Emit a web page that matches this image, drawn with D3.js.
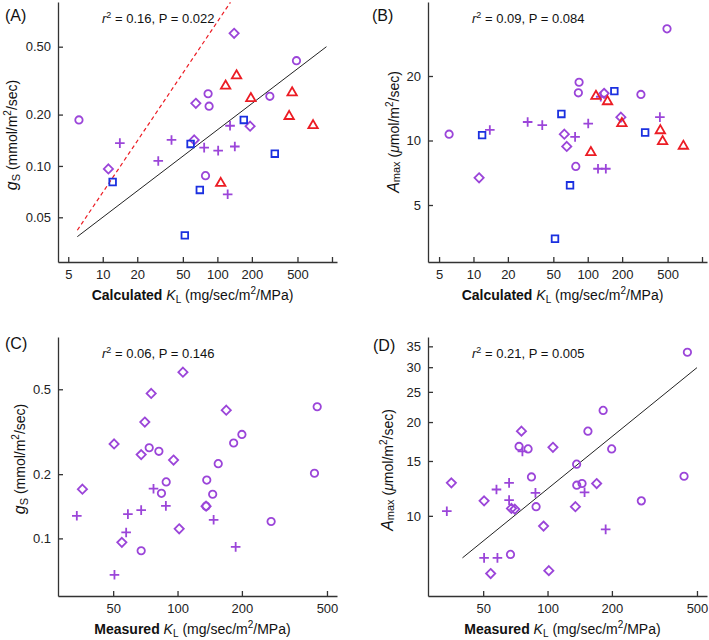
<!DOCTYPE html>
<html>
<head>
<meta charset="utf-8">
<script src="https://cdn.jsdelivr.net/npm/d3@7"></script>
<style>
body { margin: 0; background: #fff; }
svg { font-family: "Liberation Sans", Arial, sans-serif; }
</style>
</head>
<body>
<svg id="chart" width="709" height="640"></svg>
<script>
// colours of the species groups
var purple = "#9b45d9", red = "#ec1c24", blue = "#1b30e0";

// (A) calculated KL vs gs   [KL, gs]
var aCircles   = [[6.2,0.186],[83,0.265],[84.7,0.224],[490,0.414],[287,0.256],[78.8,0.0877]];
var aDiamonds  = [[11.2,0.096],[140,0.599],[64.9,0.233],[193,0.171],[62.8,0.142]];
var aPlus      = [[14.1,0.136],[30.5,0.107],[39.8,0.142],[129,0.172],[76.7,0.128],[101.6,0.123],[142,0.130],[123,0.0682]];
var aTriangles = [[147,0.341],[118,0.297],[196,0.251],[449,0.271],[423,0.197],[684,0.174],[107,0.0798]];
var aSquares   = [[12.2,0.0805],[170,0.186],[58.4,0.1346],[317,0.118],[70.3,0.0723],[52,0.0392]];
var aFit       = [[6,0.0385],[895,0.5]];
var aOneToOne  = [[6,0.042],[130,0.91]];

// (B) calculated KL vs Amax
var bCircles   = [[6.12,10.7],[494,33.2],[84,18.7],[82.8,16.7],[292,16.4],[78.6,7.57]];
var bDiamonds  = [[11.2,6.7],[139,16.6],[195,12.85],[62.4,10.7],[65.5,9.38]];
var bPlus      = [[13.9,11.2],[29.8,12.2],[40,11.8],[130,16.0],[101,12.0],[428,12.85],[77.5,10.4],[123,7.38],[144,7.38]];
var bTriangles = [[118,16.2],[149,15.3],[199,12.1],[432,11.2],[452,9.97],[687,9.48],[106.5,8.86]];
var bSquares   = [[11.9,10.6],[171,17.0],[58.8,13.3],[318,10.9],[70,6.18],[51.7,3.48]];

// (C) measured KL vs gs
var cDiamonds = [[75.3,0.478],[70.3,0.351],[50.5,0.277],[67.6,0.247],[95.8,0.233],[35.9,0.170],[54.9,0.0958],[106,0.601],[169,0.399],[136,0.1416],[101.8,0.1109]];
var cCircles  = [[73.7,0.266],[81.8,0.256],[88.5,0.184],[84.1,0.1626],[67.6,0.0875],[450,0.414],[200,0.307],[183,0.28],[155,0.224],[137,0.1876],[437,0.202],[146,0.161],[136,0.1416],[274,0.120]];
var cPlus     = [[77.2,0.171],[88.2,0.142],[33.8,0.1276],[58.6,0.130],[67.6,0.1357],[57.5,0.1066],[50.7,0.0675],[147.5,0.1222],[187,0.0913]];

// (D) measured KL vs Amax
var dDiamonds = [[35.5,12.76],[50.5,11.17],[67.8,10.56],[70.3,10.5],[75.5,18.7],[54.2,6.53],[106,16.6],[169.7,12.7],[135,10.7],[95.8,9.27],[101.4,6.67]];
var dCircles  = [[73.6,16.7],[81.1,16.4],[84.1,13.33],[88.4,10.7],[67.1,7.52],[451,33.5],[182,21.8],[154.5,18.7],[199.5,16.4],[136.8,14.65],[137,12.54],[145,12.7],[435,13.4],[274.6,11.17]];
var dPlus     = [[33.8,10.35],[57.7,12.15],[66.1,12.76],[66.1,11.23],[76.3,16.1],[87.8,11.85],[50.5,7.33],[58.3,7.33],[149,11.9],[187,9.05]];
var dFit      = [[40,7.33],[500,29.9]];

// tick values
var calcTicks = [5,10,20,50,100,200,500,1000];
var measTicks = [50,100,200,500];
var gsCalcTicks = [0.05,0.10,0.20,0.50];
var gsMeasTicks = [0.1,0.2,0.5];
var amaxCalcTicks = [5,10,20];
var amaxMeasTicks = [10,15,20,25,30,35];

var svg = d3.select("#chart");

// marker outlines
function markerPath(shape) {
    if (shape == "circle") return "M3.7,0A3.7,3.7,0,1,1,-3.7,0A3.7,3.7,0,1,1,3.7,0Z";
    if (shape == "square") return "M-3.3,-3.3H3.3V3.3H-3.3Z";
    if (shape == "diamond") return "M0,-4.6L4.6,0L0,4.6L-4.6,0Z";
    if (shape == "triangle") return "M0,-4.8L4.7,3.3L-4.7,3.3Z";
    if (shape == "plus") return "M-4.8,0H4.8M0,-4.8V4.8";
}

function panel(cfg) {
    var x = d3.scaleLog().domain(cfg.xDom).range([cfg.left, cfg.right]);
    var y = d3.scaleLog().domain(cfg.yDom).range([cfg.bottom, cfg.top]);

    // axes, ticks pointing inward
    var gx = svg.append("g")
        .attr("transform", "translate(0," + cfg.bottom + ")")
        .call(d3.axisBottom(x).tickValues(cfg.xTicks)
            .tickFormat(function(d) { return d >= 1000 ? "" : d; })
            .tickSizeInner(-5).tickSizeOuter(0).tickPadding(8));
    var gy = svg.append("g")
        .attr("transform", "translate(" + cfg.left + ",0)")
        .call(d3.axisLeft(y).tickValues(cfg.yTicks).tickFormat(cfg.yFmt)
            .tickSizeInner(-5).tickSizeOuter(0).tickPadding(7));
    [gx, gy].forEach(function(g) {
        g.attr("font-family", null).attr("font-size", null);
        g.selectAll("text").style("font-size", "13px").attr("fill", "#222");
        g.selectAll("path,line").attr("stroke", "#333").attr("stroke-width", 1.3);
    });

    var clipId = "clip" + cfg.key;
    svg.append("clipPath").attr("id", clipId).append("rect")
        .attr("x", cfg.left).attr("y", cfg.top)
        .attr("width", cfg.right - cfg.left).attr("height", cfg.bottom - cfg.top);

    var line = d3.line().x(function(d) { return x(d[0]); }).y(function(d) { return y(d[1]); });
    (cfg.lines || []).forEach(function(l) {
        svg.append("path").attr("d", line(l.data))
            .attr("clip-path", "url(#" + clipId + ")")
            .attr("fill", "none").attr("stroke", l.color)
            .attr("stroke-width", l.width)
            .attr("stroke-dasharray", l.dash || null);
    });

    cfg.series.forEach(function(s) {
        svg.append("g").selectAll("path")
            .data(s.data)
            .enter().append("path")
            .attr("d", markerPath(s.shape))
            .attr("transform", function(d) { return "translate(" + x(d[0]) + "," + y(d[1]) + ")"; })
            .attr("fill", "none")
            .attr("stroke", s.color)
            .attr("stroke-width", 1.8);
    });

    // panel letter
    svg.append("text").attr("x", cfg.labelX).attr("y", cfg.labelY)
        .style("font-size", "16px").attr("fill", "#111").text(cfg.name);

    // statistics
    var st = svg.append("text").attr("x", cfg.left + 44).attr("y", cfg.top + 21)
        .style("font-size", "13px").attr("fill", "#111");
    st.append("tspan").style("font-style", "italic").text("r");
    st.append("tspan").attr("dy", -5).style("font-size", "9px").text("2");
    st.append("tspan").attr("dy", 5).text(" = " + cfg.r2 + ", P = " + cfg.p);

    // x title
    var xt = svg.append("text")
        .attr("x", (cfg.left + cfg.right) / 2 - 5).attr("y", cfg.bottom + 38)
        .attr("text-anchor", "middle").style("font-size", "14px").attr("fill", "#111");
    xt.append("tspan").style("font-weight", "bold").text(cfg.xWord + " ");
    xt.append("tspan").style("font-style", "italic").text("K");
    xt.append("tspan").attr("dy", 3).style("font-size", "10px").text("L");
    xt.append("tspan").attr("dy", -3).text(" (mg/sec/m");
    xt.append("tspan").attr("dy", -6).style("font-size", "10px").text("2");
    xt.append("tspan").attr("dy", 6).text("/MPa)");

    // y title
    var yt = svg.append("text")
        .attr("transform", "translate(" + cfg.yTitleX + "," + cfg.yTitleY + ") rotate(-90)")
        .attr("text-anchor", "middle").style("font-size", "14px").attr("fill", "#111");
    if (cfg.yKind == "gs") {
        yt.append("tspan").style("font-style", "italic").style("font-size", "16px").text("g");
        yt.append("tspan").attr("dy", 3).style("font-size", "11px").text("S");
        yt.append("tspan").attr("dy", -3).text(" (mmol/m");
    } else {
        yt.append("tspan").style("font-style", "italic").style("font-size", "16px").text("A");
        yt.append("tspan").attr("dy", 1).style("font-size", "11px").text("max");
        yt.append("tspan").attr("dy", -1).text(" (");
        yt.append("tspan").style("font-style", "italic").text("\u03bc");
        yt.append("tspan").text("mol/m");
    }
    yt.append("tspan").attr("dy", -6).style("font-size", "10px").text("2");
    yt.append("tspan").attr("dy", 6).text("/sec)");
}

panel({
    key: "A", name: "(A)", labelX: 5, labelY: 21,
    left: 58, right: 337, top: 2, bottom: 262,
    xDom: [4.07, 1106], yDom: [0.02735, 0.914],
    xTicks: calcTicks, yTicks: gsCalcTicks, yFmt: d3.format(".2f"),
    r2: "0.16", p: "0.022", xWord: "Calculated",
    yKind: "gs", yTitleX: 17, yTitleY: 135,
    lines: [
        {data: aOneToOne, color: red, width: 1.2, dash: "4,3"},
        {data: aFit, color: "#222", width: 1}
    ],
    series: [
        {data: aCircles, shape: "circle", color: purple},
        {data: aDiamonds, shape: "diamond", color: purple},
        {data: aPlus, shape: "plus", color: purple},
        {data: aTriangles, shape: "triangle", color: red},
        {data: aSquares, shape: "square", color: blue}
    ]
});

panel({
    key: "B", name: "(B)", labelX: 372, labelY: 21,
    left: 428, right: 707, top: 2, bottom: 262,
    xDom: [4.0, 1106], yDom: [2.71, 44.3],
    xTicks: calcTicks, yTicks: amaxCalcTicks, yFmt: d3.format("d"),
    r2: "0.09", p: "0.084", xWord: "Calculated",
    yKind: "amax", yTitleX: 399, yTitleY: 132,
    series: [
        {data: bCircles, shape: "circle", color: purple},
        {data: bDiamonds, shape: "diamond", color: purple},
        {data: bPlus, shape: "plus", color: purple},
        {data: bTriangles, shape: "triangle", color: red},
        {data: bSquares, shape: "square", color: blue}
    ]
});

panel({
    key: "C", name: "(C)", labelX: 5, labelY: 349,
    left: 58, right: 337, top: 337, bottom: 596,
    xDom: [27.6, 557], yDom: [0.0537, 0.879],
    xTicks: measTicks, yTicks: gsMeasTicks, yFmt: d3.format(".1f"),
    r2: "0.06", p: "0.146", xWord: "Measured",
    yKind: "gs", yTitleX: 25, yTitleY: 459,
    series: [
        {data: cDiamonds, shape: "diamond", color: purple},
        {data: cCircles, shape: "circle", color: purple},
        {data: cPlus, shape: "plus", color: purple}
    ]
});

panel({
    key: "D", name: "(D)", labelX: 373, labelY: 351,
    left: 428, right: 707, top: 337, bottom: 596,
    xDom: [27.6, 557], yDom: [5.53, 37.5],
    xTicks: measTicks, yTicks: amaxMeasTicks, yFmt: d3.format("d"),
    r2: "0.21", p: "0.005", xWord: "Measured",
    yKind: "amax", yTitleX: 393, yTitleY: 470,
    lines: [{data: dFit, color: "#222", width: 1}],
    series: [
        {data: dDiamonds, shape: "diamond", color: purple},
        {data: dCircles, shape: "circle", color: purple},
        {data: dPlus, shape: "plus", color: purple}
    ]
});
</script>
</body>
</html>
